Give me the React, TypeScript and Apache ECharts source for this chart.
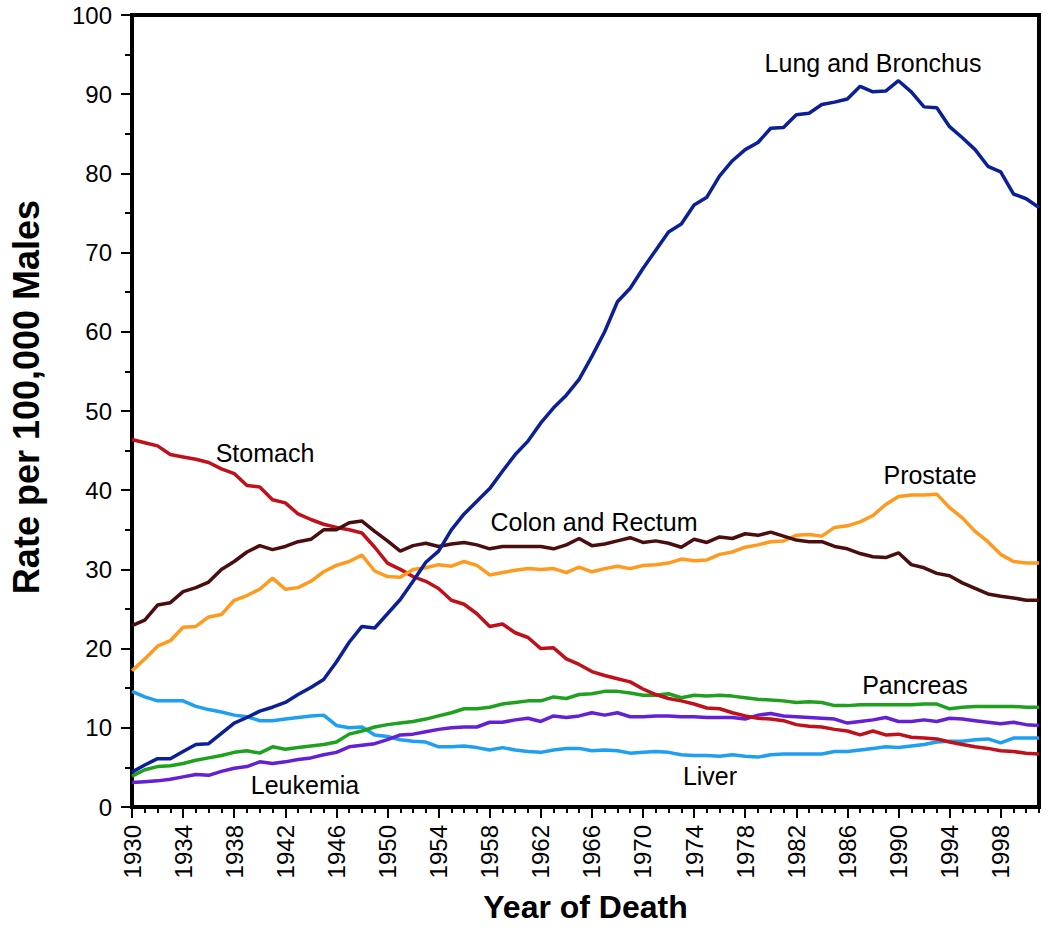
import React, { useEffect, useRef } from "react";
import * as echarts from "echarts";

const START_YEAR = 1930;
const END_YEAR = 2001;
const LABEL_YEARS = [1930, 1934, 1938, 1942, 1946, 1950, 1954, 1958, 1962, 1966, 1970, 1974, 1978, 1982, 1986, 1990, 1994, 1998];

// Rates per 100,000 males, one value per year 1930..2001
const LUNG = [
  4.4, 5.3, 6.1, 6.1, 7.0, 7.9, 8.0, 9.3, 10.6, 11.3,
  12.1, 12.6, 13.2, 14.2, 15.1, 16.1, 18.3, 20.8, 22.8, 22.6,
  24.4, 26.2, 28.5, 30.9, 32.3, 35.0, 37.0, 38.6, 40.2, 42.4,
  44.5, 46.2, 48.5, 50.4, 52.0, 54.0, 56.9, 60.0, 63.8, 65.5,
  68.0, 70.3, 72.6, 73.6, 76.0, 77.0, 79.7, 81.6, 83.0, 83.9,
  85.7, 85.8, 87.4, 87.6, 88.7, 89.0, 89.4, 91.0, 90.3, 90.4,
  91.7, 90.3, 88.4, 88.3, 85.9, 84.5, 83.0, 80.9, 80.2, 77.4,
  76.8, 75.7,
];
const STOMACH = [
  46.4, 46.0, 45.6, 44.5, 44.2, 43.9, 43.5, 42.7, 42.1, 40.6,
  40.4, 38.8, 38.4, 37.0, 36.3, 35.7, 35.3, 35.0, 34.6, 32.8,
  30.8, 30.0, 29.1, 28.5, 27.6, 26.1, 25.6, 24.4, 22.8, 23.1,
  22.0, 21.4, 20.0, 20.1, 18.7, 18.0, 17.1, 16.6, 16.2, 15.8,
  14.9, 14.2, 13.7, 13.4, 13.0, 12.5, 12.4, 11.9, 11.5, 11.2,
  11.1, 10.9, 10.4, 10.2, 10.1, 9.8, 9.6, 9.1, 9.6, 9.1,
  9.2, 8.8, 8.7, 8.6, 8.2, 7.9, 7.6, 7.4, 7.1, 7.0,
  6.8, 6.7,
];
const COLON = [
  22.9, 23.6, 25.5, 25.8, 27.2, 27.7, 28.4, 30.0, 31.0, 32.2,
  33.0, 32.5, 32.9, 33.5, 33.8, 35.0, 35.0, 35.9, 36.1, 34.8,
  33.6, 32.3, 33.0, 33.3, 32.9, 33.2, 33.4, 33.1, 32.6, 32.9,
  32.9, 32.9, 32.9, 32.6, 33.1, 33.9, 33.0, 33.2, 33.6, 34.0,
  33.4, 33.6, 33.3, 32.8, 33.8, 33.4, 34.1, 33.9, 34.5, 34.3,
  34.7, 34.2, 33.7, 33.5, 33.5, 32.9, 32.6, 32.0, 31.6, 31.5,
  32.1, 30.6, 30.2, 29.5, 29.2, 28.3, 27.6, 26.9, 26.6, 26.4,
  26.1, 26.1,
];
const PROSTATE = [
  17.2, 18.7, 20.3, 21.0, 22.7, 22.8, 24.0, 24.3, 26.1, 26.7,
  27.5, 28.9, 27.5, 27.7, 28.5, 29.7, 30.5, 31.0, 31.8, 29.8,
  29.1, 29.0, 30.0, 30.2, 30.6, 30.4, 31.0, 30.5, 29.3, 29.6,
  29.9, 30.1, 30.0, 30.1, 29.6, 30.3, 29.7, 30.1, 30.4, 30.1,
  30.5, 30.6, 30.8, 31.3, 31.1, 31.2, 31.9, 32.2, 32.8, 33.1,
  33.5, 33.6, 34.3, 34.4, 34.2, 35.3, 35.5, 36.0, 36.8, 38.2,
  39.2, 39.4, 39.4, 39.5, 37.8, 36.5, 34.8, 33.5, 31.9, 31.0,
  30.8, 30.8,
];
const PANCREAS = [
  3.9, 4.7, 5.1, 5.2, 5.5, 5.9, 6.2, 6.5, 6.9, 7.1,
  6.8, 7.6, 7.3, 7.5, 7.7, 7.9, 8.2, 9.2, 9.6, 10.1,
  10.4, 10.6, 10.8, 11.1, 11.5, 11.9, 12.4, 12.4, 12.6, 13.0,
  13.2, 13.4, 13.4, 13.9, 13.7, 14.2, 14.3, 14.6, 14.6, 14.4,
  14.1, 14.1, 14.3, 13.8, 14.1, 14.0, 14.1, 14.0, 13.8, 13.6,
  13.5, 13.4, 13.2, 13.3, 13.2, 12.8, 12.8, 12.9, 12.9, 12.9,
  12.9, 12.9, 13.0, 13.0, 12.4, 12.6, 12.7, 12.7, 12.7, 12.7,
  12.6, 12.6,
];
const LEUKEMIA = [
  3.1, 3.2, 3.3, 3.5, 3.8, 4.1, 4.0, 4.5, 4.9, 5.1,
  5.7, 5.5, 5.7, 6.0, 6.2, 6.6, 6.9, 7.6, 7.8, 8.0,
  8.5, 9.1, 9.2, 9.5, 9.8, 10.0, 10.1, 10.1, 10.7, 10.7,
  11.0, 11.2, 10.8, 11.5, 11.3, 11.5, 11.9, 11.6, 11.9, 11.4,
  11.4, 11.5, 11.5, 11.4, 11.4, 11.3, 11.3, 11.3, 11.1, 11.6,
  11.8, 11.5, 11.4, 11.3, 11.2, 11.1, 10.6, 10.8, 11.0, 11.3,
  10.8, 10.8, 11.0, 10.8, 11.2, 11.1, 10.9, 10.7, 10.5, 10.7,
  10.4, 10.3,
];
const LIVER = [
  14.6, 13.9, 13.4, 13.4, 13.4, 12.7, 12.3, 12.0, 11.6, 11.4,
  10.9, 10.9, 11.1, 11.3, 11.5, 11.6, 10.3, 10.0, 10.1, 9.1,
  8.9, 8.5, 8.3, 8.2, 7.6, 7.6, 7.7, 7.5, 7.2, 7.5,
  7.2, 7.0, 6.9, 7.2, 7.4, 7.4, 7.1, 7.2, 7.1, 6.8,
  6.9, 7.0, 6.9, 6.6, 6.5, 6.5, 6.4, 6.6, 6.4, 6.3,
  6.6, 6.7, 6.7, 6.7, 6.7, 7.0, 7.0, 7.2, 7.4, 7.6,
  7.5, 7.7, 7.9, 8.2, 8.3, 8.3, 8.5, 8.6, 8.1, 8.7,
  8.7, 8.7,
];

const SERIES_NAMES = ["Liver", "Leukemia", "Pancreas", "Stomach", "Prostate", "Colon and Rectum", "Lung and Bronchus"];
const SERIES_VALUES = [LIVER, LEUKEMIA, PANCREAS, STOMACH, PROSTATE, COLON, LUNG];
const SERIES_COLORS = ["#1f9ff0", "#6420d4", "#1fa01f", "#c0101a", "#ff9a1e", "#4a0e0e", "#0b1f96"];

const FONT = "'Liberation Sans', Arial, Helvetica, sans-serif";

export default function App() {
  const ref = useRef<HTMLDivElement>(null);

  useEffect(() => {
    const chart = echarts.init(ref.current as HTMLDivElement, null, { renderer: "svg" });
    const years: number[] = [];
    for (let y = START_YEAR; y <= END_YEAR; y++) years.push(y);
    const toData = (vals: number[]) => vals.map((v, i) => [START_YEAR + i, v]);

    const labelText = (text: string, x: number, y: number) => ({
      type: "text",
      x,
      y,
      silent: true,
      style: {
        text,
        fill: "#000",
        font: `25px ${FONT}`,
        align: "center",
        verticalAlign: "middle",
      },
    });

    chart.setOption({
      animation: false,
      backgroundColor: "#fff",
      textStyle: { fontFamily: FONT },
      grid: {
        left: 122,
        top: 15,
        width: 917,
        height: 792,
        show: true,
        borderColor: "#000",
        borderWidth: 4,
        backgroundColor: "transparent",
      },
      xAxis: [
        {
          type: "value",
          min: START_YEAR,
          max: END_YEAR,
          position: "bottom",
          axisLine: { show: true, onZero: false, lineStyle: { color: "#000", width: 4 } },
          axisTick: { show: true, customValues: years, length: 6, lineStyle: { color: "#000", width: 2 } },
          axisLabel: {
            customValues: LABEL_YEARS,
            formatter: (v: number) => String(v),
            rotate: 90,
            fontSize: 24,
            color: "#000",
            margin: 18,
            fontFamily: FONT,
          },
          splitLine: { show: false },
          name: "Year of Death",
          nameLocation: "middle",
          nameGap: 84,
          nameTextStyle: { fontSize: 32, fontWeight: "bold", color: "#000", fontFamily: FONT },
        },
        {
          type: "value",
          min: START_YEAR,
          max: END_YEAR,
          position: "bottom",
          axisLine: { show: false, onZero: false },
          axisTick: { show: true, customValues: LABEL_YEARS, length: 11, lineStyle: { color: "#000", width: 2 } },
          axisLabel: { show: false },
          splitLine: { show: false },
        },
      ],
      yAxis: {
        type: "value",
        min: 0,
        max: 100,
        interval: 10,
        axisLine: { show: true, lineStyle: { color: "#000", width: 4 } },
        axisTick: { show: true, length: 11, lineStyle: { color: "#000", width: 2 } },
        minorTick: { show: true, splitNumber: 2, length: 7, lineStyle: { color: "#000", width: 2 } },
        minorSplitLine: { show: false },
        splitLine: { show: false },
        axisLabel: { fontSize: 24, color: "#000", margin: 20, fontFamily: FONT },
        name: "Rate per 100,000 Males",
        nameLocation: "middle",
        nameGap: 88,
        nameRotate: 90,
        nameTextStyle: {
          fontSize: 36,
          fontWeight: "bold",
          color: "#000",
          fontFamily: FONT,
          padding: [0, 0, 0, 28],
        },
      },
      series: SERIES_NAMES.map((name, i) => ({
        name,
        type: "line",
        xAxisIndex: 0,
        data: toData(SERIES_VALUES[i]),
        showSymbol: false,
        symbol: "none",
        lineStyle: { color: SERIES_COLORS[i], width: 3.5 },
        itemStyle: { color: SERIES_COLORS[i] },
      })),
      graphic: [
        labelText("Lung and Bronchus", 873, 63),
        labelText("Stomach", 265, 453),
        labelText("Prostate", 930, 475),
        labelText("Colon and Rectum", 594, 522),
        labelText("Pancreas", 915, 685),
        labelText("Leukemia", 305, 785),
        labelText("Liver", 710, 776),
      ],
    });

    return () => chart.dispose();
  }, []);

  return (
    <div
      ref={ref}
      style={{ position: "fixed", left: 0, top: 0, width: 1050, height: 933, background: "#fff" }}
    />
  );
}
